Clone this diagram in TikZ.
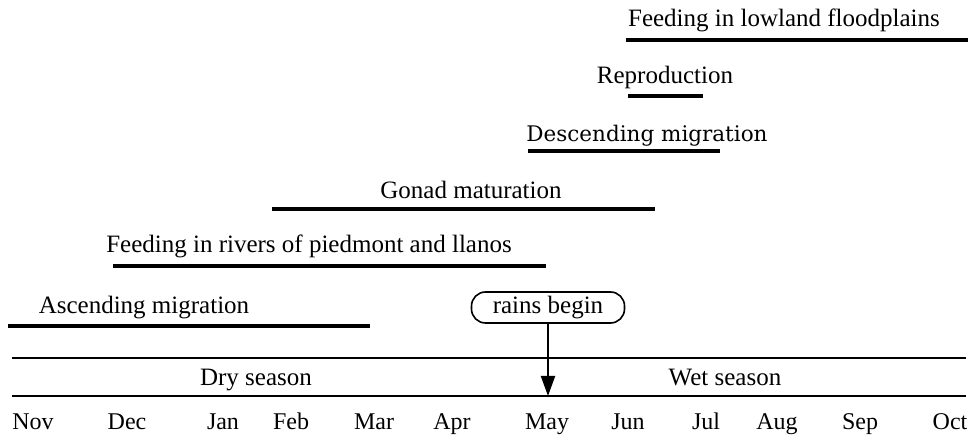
\documentclass[tikz,border=0pt]{standalone}
\usepackage{fontspec}
\setmainfont{Liberation Serif}
\newfontfamily\descfont{DejaVu Serif}
\usetikzlibrary{arrows.meta}
\begin{document}
\begin{tikzpicture}[x=1pt,y=1pt,
  lbl/.style={anchor=base,inner sep=0pt,font=\fontsize{25}{30}\selectfont},
  desc/.style={anchor=base,inner sep=0pt,font=\descfont\fontsize{21.5}{26}\selectfont},
  mon/.style={anchor=base,inner sep=0pt,font=\fontsize{24}{28}\selectfont},
  bar/.style={line width=4pt},
  rule/.style={line width=1.6pt},
  rainbox/.style={draw,line width=1.6pt,rounded corners=14pt,minimum width=153pt,minimum height=31pt,inner sep=0pt,font=\fontsize{25}{30}\selectfont},
  arr/.style={line width=2pt,-{Triangle[length=20pt,width=14pt]}}]
\useasboundingbox (0,0) rectangle (970,436);
% activity labels
\node[lbl] (feedlow) at (784,409) {Feeding in lowland floodplains};
\node[lbl] (repro) at (665,352) {Reproduction};
\node[desc] (descmig) at (647,294) {Descending migration};
\node[lbl] (gonad) at (471,237) {Gonad maturation};
\node[lbl] (feedriv) at (309,183) {Feeding in rivers of piedmont and llanos};
\node[lbl] (ascmig) at (144,122) {Ascending migration};
% bars
\draw[bar] (626,396) -- (968,396);
\draw[bar] (628,340) -- (703,340);
\draw[bar] (528,285) -- (720,285);
\draw[bar] (272,227) -- (655,227);
\draw[bar] (113,170) -- (546,170);
\draw[bar] (8,110) -- (370,110);
% season band
\draw[rule] (12,78) -- (966,78);
\draw[rule] (12,40) -- (966,40);
\node[lbl] (dry) at (256,50) {Dry season};
\node[lbl] (wet) at (725,50) {Wet season};
% rains
\node[rainbox] (rains) at (548,128.5) {rains begin};
\coordinate (raintip) at (548,40);
\draw[arr] (rains.south) -- (raintip);
% months
\node[mon] (nov) at (33,6) {Nov};
\node[mon] (dec) at (127,6) {Dec};
\node[mon] (jan) at (223,6) {Jan};
\node[mon] (feb) at (291,6) {Feb};
\node[mon] (mar) at (374,6) {Mar};
\node[mon] (apr) at (452,6) {Apr};
\node[mon] (may) at (547,6) {May};
\node[mon] (jun) at (628,6) {Jun};
\node[mon] (jul) at (706,6) {Jul};
\node[mon] (aug) at (777,6) {Aug};
\node[mon] (sep) at (860,6) {Sep};
\node[mon] (oct) at (950,6) {Oct};
\end{tikzpicture}
\end{document}
